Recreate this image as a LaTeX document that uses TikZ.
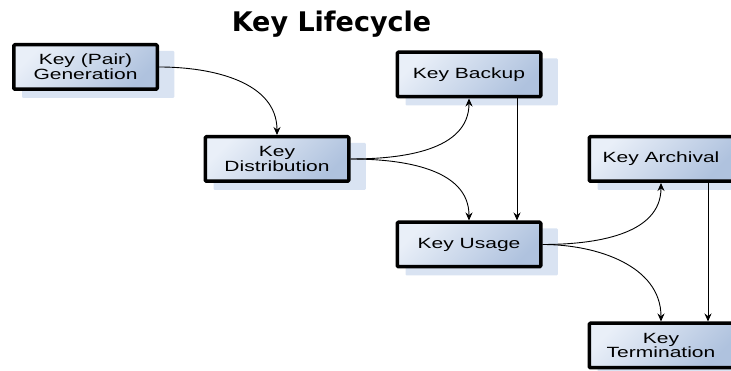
\documentclass[tikz,border=0pt]{standalone}
\usepackage{fontspec}
\usetikzlibrary{shadows,arrows.meta}
\newfontfamily\boxfont{Liberation Sans}[FakeStretch=1.42]
\newfontfamily\titlefont{DejaVu Sans}
\definecolor{boxlight}{HTML}{E9EFF8}
\definecolor{boxdark}{HTML}{AFC2DE}
\definecolor{shadowblue}{HTML}{D9E3F2}

\begin{document}
\begin{tikzpicture}[x=1pt, y=1pt, >={Stealth[length=8pt,width=7pt]}, line join=round,
        stage/.style={draw=black, line width=3.5pt, rounded corners=1pt,
            minimum width=143.5pt, minimum height=44.5pt, inner sep=0pt,
            top color=boxlight, bottom color=boxdark, shading angle=45,
            drop shadow={shadow xshift=12pt, shadow yshift=-7pt, shadow scale=1.06,
                fill=shadowblue, opacity=1},
            align=center, font=\boxfont\fontsize{14.8}{12.7}\selectfont},
        flow/.style={->, line width=0.9pt}]
        \useasboundingbox (0,0) rectangle (731,371);

        % 标题
        \node[font=\titlefont\bfseries\fontsize{27}{32}\selectfont, anchor=base] (title) at (331.5,339) {Key Lifecycle};

        % 各阶段
        \node[stage] (gen) at (85.5,304) {Key (Pair)\\Generation};
        \node[stage] (dist) at (277,212) {Key\\Distribution};
        \node[stage] (backup) at (469,296.5) {Key Backup};
        \node[stage] (usage) at (469,126.5) {Key Usage};
        \node[stage] (archive) at (661,212) {Key Archival};
        \node[stage] (term) at (661,25.5) {Key\\Termination};

        % 曲线箭头
        \draw[flow] (gen.east) to[out=0, in=90] (dist.north);
        \draw[flow] (dist.east) to[out=0, in=-90] (backup.south);
        \draw[flow] (dist.east) to[out=0, in=90] (usage.north);
        \draw[flow] (usage.east) to[out=0, in=-90] (archive.south);
        \draw[flow] (usage.east) to[out=0, in=90] (term.north);

        % 竖直箭头
        \draw[flow] ([xshift=48pt]backup.south) -- ([xshift=48pt]usage.north);
        \draw[flow] ([xshift=47pt]archive.south) -- ([xshift=47pt]term.north);
    \end{tikzpicture}
\end{document}
